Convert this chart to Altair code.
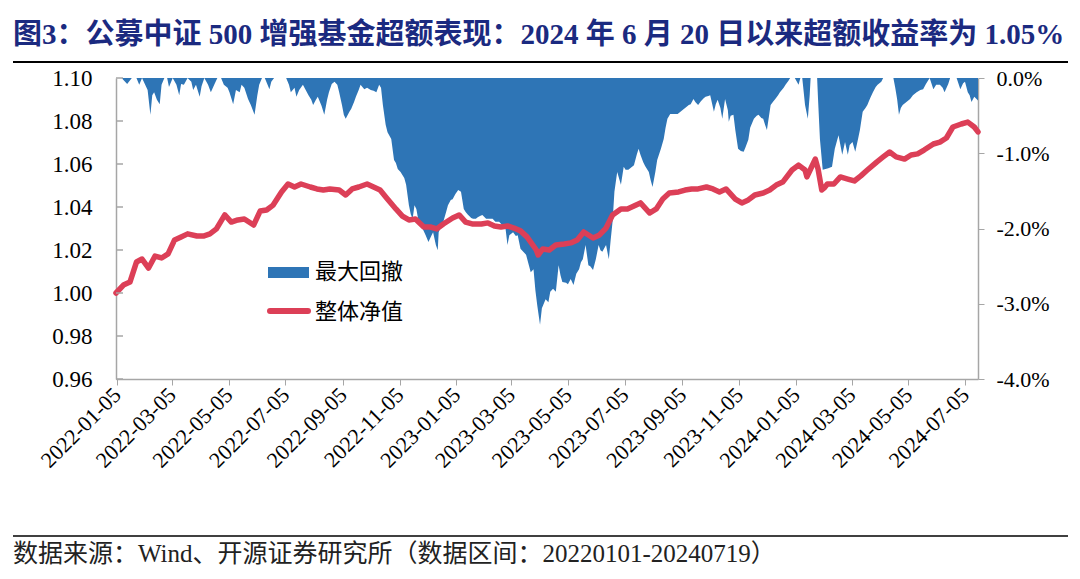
import altair as alt
import pandas as pd

title_text = "图3：公募中证 500 增强基金超额表现：2024 年 6 月 20 日以来超额收益率为 1.05%"
footer_text = "数据来源：Wind、开源证券研究所（数据区间：20220101-20240719）"
legend_names = ["最大回撤", "整体净值"]

nav_dates = [
    "2022-01-04", "2022-01-12", "2022-01-19", "2022-01-26", "2022-02-01", "2022-02-08", "2022-02-15", "2022-02-22",
    "2022-03-01", "2022-03-08", "2022-03-15", "2022-03-22", "2022-04-01", "2022-04-08", "2022-04-15", "2022-04-22",
    "2022-05-01", "2022-05-08", "2022-05-15", "2022-05-22", "2022-06-01", "2022-06-08", "2022-06-15", "2022-06-22",
    "2022-07-01", "2022-07-08", "2022-07-15", "2022-07-22", "2022-08-01", "2022-08-08", "2022-08-15", "2022-08-22",
    "2022-09-01", "2022-09-08", "2022-09-15", "2022-09-22", "2022-10-01", "2022-10-08", "2022-10-15", "2022-10-22",
    "2022-11-01", "2022-11-08", "2022-11-15", "2022-11-22", "2022-12-01", "2022-12-08", "2022-12-15", "2022-12-22",
    "2023-01-01", "2023-01-08", "2023-01-15", "2023-01-22", "2023-02-01", "2023-02-08", "2023-02-15", "2023-02-22",
    "2023-03-01", "2023-03-08", "2023-03-15", "2023-03-22", "2023-04-01", "2023-04-03", "2023-04-08", "2023-04-15",
    "2023-04-22", "2023-05-01", "2023-05-08", "2023-05-15", "2023-05-22", "2023-06-01", "2023-06-08", "2023-06-15",
    "2023-06-22", "2023-07-01", "2023-07-08", "2023-07-15", "2023-07-22", "2023-08-01", "2023-08-08", "2023-08-15",
    "2023-08-22", "2023-09-01", "2023-09-08", "2023-09-15", "2023-09-22", "2023-10-01", "2023-10-08", "2023-10-15",
    "2023-10-22", "2023-11-01", "2023-11-08", "2023-11-15", "2023-11-22", "2023-12-01", "2023-12-08", "2023-12-15",
    "2023-12-22", "2024-01-01", "2024-01-08", "2024-01-15", "2024-01-17", "2024-01-22", "2024-01-26", "2024-01-29",
    "2024-02-02", "2024-02-05", "2024-02-08", "2024-02-15", "2024-02-22", "2024-03-01", "2024-03-08", "2024-03-15",
    "2024-03-22", "2024-04-01", "2024-04-08", "2024-04-15", "2024-04-22", "2024-05-01", "2024-05-08", "2024-05-15",
    "2024-05-22", "2024-06-01", "2024-06-08", "2024-06-15", "2024-06-22", "2024-07-01", "2024-07-08", "2024-07-15",
    "2024-07-19",
]
nav_values = [
    1.0000, 1.0037, 1.0051, 1.0144, 1.0158, 1.0116, 1.0172, 1.0163,
    1.0182, 1.0247, 1.0261, 1.0275, 1.0265, 1.0265, 1.0275, 1.0298,
    1.0363, 1.0330, 1.0340, 1.0344, 1.0316, 1.0381, 1.0386, 1.0409,
    1.0470, 1.0507, 1.0493, 1.0507, 1.0493, 1.0484, 1.0479, 1.0484,
    1.0479, 1.0456, 1.0484, 1.0493, 1.0507, 1.0493, 1.0479, 1.0442,
    1.0391, 1.0358, 1.0340, 1.0344, 1.0307, 1.0307, 1.0298, 1.0321,
    1.0349, 1.0363, 1.0330, 1.0321, 1.0321, 1.0326, 1.0312, 1.0307,
    1.0312, 1.0302, 1.0289, 1.0261, 1.0200, 1.0177, 1.0205, 1.0200,
    1.0223, 1.0228, 1.0233, 1.0247, 1.0284, 1.0256, 1.0270, 1.0302,
    1.0363, 1.0391, 1.0391, 1.0405, 1.0419, 1.0372, 1.0391, 1.0437,
    1.0465, 1.0470, 1.0479, 1.0484, 1.0484, 1.0493, 1.0484, 1.0470,
    1.0484, 1.0437, 1.0419, 1.0433, 1.0456, 1.0465, 1.0479, 1.0502,
    1.0516, 1.0572, 1.0595, 1.0572, 1.0540, 1.0586, 1.0623, 1.0577,
    1.0479, 1.0490, 1.0507, 1.0507, 1.0540, 1.0530, 1.0521, 1.0545,
    1.0572, 1.0609, 1.0633, 1.0656, 1.0633, 1.0623, 1.0642, 1.0647,
    1.0665, 1.0693, 1.0702, 1.0721, 1.0772, 1.0786, 1.0795, 1.0772,
    1.0749,
]

dd_dates = [
    "2022-01-04", "2022-01-10", "2022-01-16", "2022-01-21", "2022-01-26", "2022-01-29", "2022-02-01", "2022-02-07",
    "2022-02-10", "2022-02-12", "2022-02-14", "2022-02-17", "2022-02-20", "2022-02-22", "2022-02-25", "2022-02-28",
    "2022-03-02", "2022-03-06", "2022-03-10", "2022-03-13", "2022-03-15", "2022-03-18", "2022-03-22", "2022-03-26",
    "2022-03-28", "2022-03-31", "2022-04-04", "2022-04-06", "2022-04-09", "2022-04-13", "2022-04-16", "2022-04-20",
    "2022-04-23", "2022-04-27", "2022-04-30", "2022-05-04", "2022-05-06", "2022-05-10", "2022-05-13", "2022-05-17",
    "2022-05-19", "2022-05-22", "2022-05-26", "2022-05-29", "2022-06-02", "2022-06-05", "2022-06-07", "2022-06-10",
    "2022-06-13", "2022-06-18", "2022-06-20", "2022-06-23", "2022-07-06", "2022-07-09", "2022-07-11", "2022-07-15",
    "2022-07-17", "2022-07-20", "2022-07-24", "2022-07-27", "2022-07-30", "2022-08-02", "2022-08-04", "2022-08-07",
    "2022-08-09", "2022-08-13", "2022-08-16", "2022-08-19", "2022-08-21", "2022-08-24", "2022-08-27", "2022-08-30",
    "2022-09-01", "2022-09-04", "2022-09-06", "2022-09-08", "2022-09-12", "2022-09-14", "2022-09-17", "2022-09-19",
    "2022-09-22", "2022-09-24", "2022-09-28", "2022-10-01", "2022-10-05", "2022-10-08", "2022-10-11", "2022-10-14",
    "2022-10-16", "2022-10-18", "2022-10-21", "2022-10-23", "2022-10-27", "2022-10-30", "2022-11-01", "2022-11-03",
    "2022-11-06", "2022-11-10", "2022-11-12", "2022-11-15", "2022-11-17", "2022-11-19", "2022-11-21", "2022-11-23",
    "2022-11-26", "2022-11-28", "2022-11-30", "2022-12-03", "2022-12-06", "2022-12-09", "2022-12-11", "2022-12-14",
    "2022-12-16", "2022-12-17", "2022-12-19", "2022-12-22", "2022-12-25", "2022-12-27", "2022-12-30", "2023-01-01",
    "2023-01-04", "2023-01-07", "2023-01-10", "2023-01-13", "2023-01-15", "2023-01-17", "2023-01-21", "2023-01-23",
    "2023-01-26", "2023-01-28", "2023-01-31", "2023-02-02", "2023-02-06", "2023-02-09", "2023-02-13", "2023-02-16",
    "2023-02-20", "2023-02-23", "2023-02-27", "2023-03-01", "2023-03-03", "2023-03-07", "2023-03-10", "2023-03-12",
    "2023-03-15", "2023-03-18", "2023-03-21", "2023-03-24", "2023-03-26", "2023-03-29", "2023-03-31", "2023-04-02",
    "2023-04-05", "2023-04-07", "2023-04-11", "2023-04-14", "2023-04-16", "2023-04-19", "2023-04-22", "2023-04-25",
    "2023-04-27", "2023-04-29", "2023-05-03", "2023-05-05", "2023-05-08", "2023-05-11", "2023-05-14", "2023-05-17",
    "2023-05-19", "2023-05-21", "2023-05-24", "2023-05-27", "2023-05-29", "2023-06-01", "2023-06-04", "2023-06-07",
    "2023-06-09", "2023-06-11", "2023-06-15", "2023-06-18", "2023-06-20", "2023-06-22", "2023-06-24", "2023-06-27",
    "2023-07-01", "2023-07-04", "2023-07-06", "2023-07-09", "2023-07-11", "2023-07-15", "2023-07-18", "2023-07-20",
    "2023-07-22", "2023-07-25", "2023-07-27", "2023-07-31", "2023-08-02", "2023-08-04", "2023-08-07", "2023-08-09",
    "2023-08-13", "2023-08-16", "2023-08-18", "2023-08-20", "2023-08-23", "2023-08-27", "2023-08-31", "2023-09-03",
    "2023-09-05", "2023-09-08", "2023-09-12", "2023-09-14", "2023-09-17", "2023-09-19", "2023-09-22", "2023-09-25",
    "2023-09-28", "2023-09-30", "2023-10-03", "2023-10-05", "2023-10-09", "2023-10-11", "2023-10-13", "2023-10-16",
    "2023-10-18", "2023-10-21", "2023-10-24", "2023-10-25", "2023-10-27", "2023-10-30", "2023-11-01", "2023-11-04",
    "2023-11-07", "2023-11-10", "2023-11-12", "2023-11-15", "2023-11-17", "2023-11-21", "2023-11-24", "2023-11-26",
    "2023-11-29", "2023-12-01", "2023-12-03", "2023-12-05", "2023-12-09", "2023-12-12", "2023-12-14", "2023-12-17",
    "2023-12-19", "2023-12-23", "2023-12-25", "2023-12-28", "2023-12-30", "2024-01-04", "2024-01-08", "2024-01-10",
    "2024-01-12", "2024-01-15", "2024-01-18", "2024-01-20", "2024-01-21", "2024-01-24", "2024-01-28", "2024-01-29",
    "2024-01-31", "2024-02-03", "2024-02-06", "2024-02-09", "2024-02-13", "2024-02-16", "2024-02-20", "2024-02-22",
    "2024-02-24", "2024-02-27", "2024-03-01", "2024-03-03", "2024-03-06", "2024-03-09", "2024-03-12", "2024-03-14",
    "2024-03-17", "2024-03-20", "2024-03-22", "2024-03-25", "2024-03-28", "2024-03-31", "2024-04-02", "2024-04-06",
    "2024-04-08", "2024-04-15", "2024-04-19", "2024-04-21", "2024-04-23", "2024-04-25", "2024-04-27", "2024-04-29",
    "2024-05-03", "2024-05-07", "2024-05-10", "2024-05-14", "2024-05-18", "2024-05-21", "2024-05-24", "2024-05-28",
    "2024-06-01", "2024-06-04", "2024-06-08", "2024-06-11", "2024-06-13", "2024-06-17", "2024-06-19", "2024-06-24",
    "2024-06-26", "2024-06-30", "2024-07-03", "2024-07-05", "2024-07-08", "2024-07-10", "2024-07-12", "2024-07-15",
    "2024-07-19",
]
dd_values = [
    0.00, 0.00, -0.08, 0.00, 0.00, -0.09, 0.00, -0.16,
    -0.49, -0.23, -0.19, -0.29, -0.35, -0.09, 0.00, 0.00,
    -0.12, 0.00, -0.09, -0.23, -0.08, -0.09, 0.00, -0.05,
    -0.16, -0.09, -0.25, -0.11, 0.00, -0.09, -0.19, -0.08,
    0.00, 0.00, -0.09, -0.13, -0.19, -0.35, -0.16, -0.19,
    -0.09, -0.13, -0.28, -0.36, -0.49, -0.23, -0.09, 0.00,
    0.00, -0.15, -0.05, 0.00, 0.00, -0.09, -0.19, -0.13,
    -0.25, -0.16, -0.09, -0.16, -0.23, -0.29, -0.36, -0.29,
    -0.25, -0.37, -0.49, -0.29, -0.19, -0.08, -0.05, -0.09,
    -0.19, -0.36, -0.49, -0.54, -0.45, -0.41, -0.32, -0.25,
    -0.16, -0.09, -0.15, -0.13, -0.16, -0.17, -0.19, -0.09,
    -0.13, -0.36, -0.62, -0.72, -0.81, -1.09, -1.13, -1.21,
    -1.25, -1.33, -1.42, -1.69, -1.81, -1.87, -1.69, -1.74,
    -1.95, -1.98, -2.01, -2.09, -2.18, -2.10, -2.05, -2.22,
    -2.29, -2.05, -1.99, -1.91, -1.78, -1.69, -1.62, -1.61,
    -1.54, -1.49, -1.51, -1.74, -1.78, -1.81, -1.86, -1.87,
    -1.87, -1.85, -1.83, -1.82, -1.87, -1.87, -1.87, -1.91,
    -1.91, -1.95, -2.01, -2.22, -2.09, -2.05, -2.10, -2.09,
    -2.27, -2.31, -2.35, -2.49, -2.58, -2.54, -2.82, -3.02,
    -3.28, -3.06, -2.94, -2.98, -2.84, -2.80, -2.84, -2.49,
    -2.62, -2.71, -2.72, -2.74, -2.67, -2.75, -2.60, -2.54,
    -2.45, -2.41, -2.22, -2.49, -2.50, -2.55, -2.41, -2.22,
    -2.29, -2.31, -2.22, -2.41, -2.15, -1.91, -1.51, -1.25,
    -1.42, -1.18, -1.22, -1.22, -1.20, -1.16, -1.02, -0.94,
    -1.02, -1.12, -1.17, -1.25, -1.36, -1.45, -1.25, -1.09,
    -0.94, -0.81, -0.66, -0.54, -0.48, -0.48, -0.48, -0.45,
    -0.43, -0.40, -0.36, -0.35, -0.28, -0.32, -0.36, -0.31,
    -0.27, -0.25, -0.24, -0.23, -0.45, -0.35, -0.29, -0.40,
    -0.54, -0.28, -0.43, -0.58, -0.50, -0.49, -0.69, -0.94,
    -0.97, -0.98, -0.92, -0.82, -0.66, -0.54, -0.50, -0.49,
    -0.53, -0.54, -0.62, -0.69, -0.36, -0.31, -0.28, -0.23,
    -0.19, -0.13, -0.09, -0.04, 0.00, 0.00, -0.09, 0.00,
    0.00, -0.36, -0.54, -0.23, 0.00, 0.00, 0.00, -0.29,
    -0.81, -1.22, -1.21, -1.20, -1.18, -0.94, -0.76, -0.89,
    -1.02, -0.85, -1.02, -0.89, -0.85, -0.98, -0.81, -0.69,
    -0.45, -0.40, -0.36, -0.27, -0.19, -0.12, -0.09, -0.05,
    0.00, 0.00, 0.00, -0.13, -0.28, -0.49, -0.40, -0.36,
    -0.32, -0.28, -0.23, -0.19, -0.16, -0.15, -0.08, 0.00,
    -0.15, -0.09, -0.09, -0.13, -0.19, -0.08, 0.00, 0.00,
    0.00, -0.15, -0.07, -0.05, -0.19, -0.23, -0.32, -0.25,
    -0.30,
]

x_tick_dates = [
    "2022-01-05", "2022-03-05", "2022-05-05", "2022-07-05", "2022-09-05", "2022-11-05",
    "2023-01-05", "2023-03-05", "2023-05-05", "2023-07-05", "2023-09-05", "2023-11-05",
    "2024-01-05", "2024-03-05", "2024-05-05", "2024-07-05",
]
x_domain = ["2022-01-04", "2024-07-19"]
left_ticks = [0.96, 0.98, 1.00, 1.02, 1.04, 1.06, 1.08, 1.10]
right_ticks = [-4, -3, -2, -1, 0]

BLUE = "#2E75B6"
RED = "#DC3F57"
AXIS_GRAY = "#A6A6A6"
LATIN = "Liberation Serif"
CJK = "Liberation Serif, Noto Sans CJK SC"


def dt(s):
    return alt.DateTime(year=int(s[:4]), month=int(s[5:7]), date=int(s[8:10]), utc=True)


nav_df = pd.DataFrame({"date": nav_dates, "nav": nav_values})
dd_df = pd.DataFrame({"date": dd_dates, "dd": dd_values})
tick_df = pd.DataFrame({"v": left_ticks})

x_enc = alt.X(
    "date:T",
    scale=alt.Scale(type="utc", domain=[dt(x_domain[0]), dt(x_domain[1])], nice=False),
    axis=alt.Axis(
        values=[dt(s) for s in x_tick_dates],
        format="%Y-%m-%d",
        labelAngle=-45,
        labelAlign="right",
        labelBaseline="middle",
        labelFont=LATIN,
        labelFontSize=22,
        labelColor="black",
        labelPadding=6,
        labelOverlap=False,
        labelBound=False,
        labelFlush=False,
        tickSize=6,
        tickColor=AXIS_GRAY,
        domainColor=AXIS_GRAY,
        domainWidth=1.5,
        grid=False,
        title=None,
    ),
)

area = alt.Chart(dd_df).mark_area(color=BLUE, interpolate="linear", opacity=1).encode(
    x=x_enc,
    y=alt.Y(
        "dd:Q",
        scale=alt.Scale(domain=[-4, 0], nice=False, zero=False),
        axis=alt.Axis(
            orient="right",
            values=right_ticks,
            labelExpr="(datum.value < 0 ? '-' : '') + format(abs(datum.value), '.1f') + '%'",
            labelFont=LATIN,
            labelFontSize=22,
            labelColor="black",
            labelPadding=12,
            tickSize=6,
            tickColor=AXIS_GRAY,
            domainColor=AXIS_GRAY,
            domainWidth=1.5,
            grid=False,
            title=None,
        ),
    ),
    y2=alt.datum(0),
)

line = alt.Chart(nav_df).mark_line(
    color=RED, strokeWidth=5.5, strokeJoin="round", strokeCap="round"
).encode(
    x=x_enc,
    y=alt.Y(
        "nav:Q",
        scale=alt.Scale(domain=[0.96, 1.10], nice=False, zero=False),
        axis=alt.Axis(
            orient="left",
            values=left_ticks,
            format=".2f",
            labelFont=LATIN,
            labelFontSize=23,
            labelColor="black",
            labelPadding=24,
            ticks=False,
            domainColor=AXIS_GRAY,
            domainWidth=1.5,
            grid=False,
            title=None,
        ),
    ),
)

inner_ticks = alt.Chart(tick_df).mark_rule(color=AXIS_GRAY, strokeWidth=1.5).encode(
    y=alt.Y("v:Q", scale=alt.Scale(domain=[0.96, 1.10], nice=False, zero=False), axis=None),
    x=alt.value(0),
    x2=alt.value(7),
)


def one(text):
    return pd.DataFrame({"t": [text]})


title = alt.Chart(one(title_text)).mark_text(
    align="left", baseline="middle", font=CJK, fontSize=29, fontWeight="bold", color="#1B2A80"
).encode(x=alt.value(-103), y=alt.value(-43), text="t:N")

top_rule = alt.Chart(one("r")).mark_rule(color="black", strokeWidth=2).encode(
    x=alt.value(-103), x2=alt.value(952), y=alt.value(-16)
)
bottom_rule = alt.Chart(one("r")).mark_rule(color="black", strokeWidth=1.5).encode(
    x=alt.value(-103), x2=alt.value(952), y=alt.value(458)
)
footer = alt.Chart(one(footer_text)).mark_text(
    align="left", baseline="middle", font=CJK, fontSize=25, color="#222222"
).encode(x=alt.value(-103), y=alt.value(476), text="t:N")

leg_rect = alt.Chart(one(legend_names[0])).mark_rect(color=BLUE).encode(
    x=alt.value(152), x2=alt.value(193), y=alt.value(189), y2=alt.value(200)
)
leg_rect_label = alt.Chart(one(legend_names[0])).mark_text(
    align="left", baseline="middle", font=CJK, fontSize=22, color="black"
).encode(x=alt.value(199), y=alt.value(194), text="t:N")
leg_line = alt.Chart(one(legend_names[1])).mark_rule(color=RED, strokeWidth=6, strokeCap="round").encode(
    x=alt.value(154), x2=alt.value(192), y=alt.value(233)
)
leg_line_label = alt.Chart(one(legend_names[1])).mark_text(
    align="left", baseline="middle", font=CJK, fontSize=22, color="black"
).encode(x=alt.value(199), y=alt.value(234), text="t:N")

chart = (
    alt.layer(
        area, line, inner_ticks, title, top_rule, bottom_rule, footer,
        leg_rect, leg_rect_label, leg_line, leg_line_label,
    )
    .resolve_scale(y="independent")
    .properties(
        width=862,
        height=301,
        padding={"left": 108, "top": 70, "right": 94, "bottom": 192},
        autosize=alt.AutoSizeParams(type="none"),
        background="white",
    )
    .configure_view(strokeWidth=0)
)

chart.save("out.html", embed_options={"renderer": "svg", "actions": False})
